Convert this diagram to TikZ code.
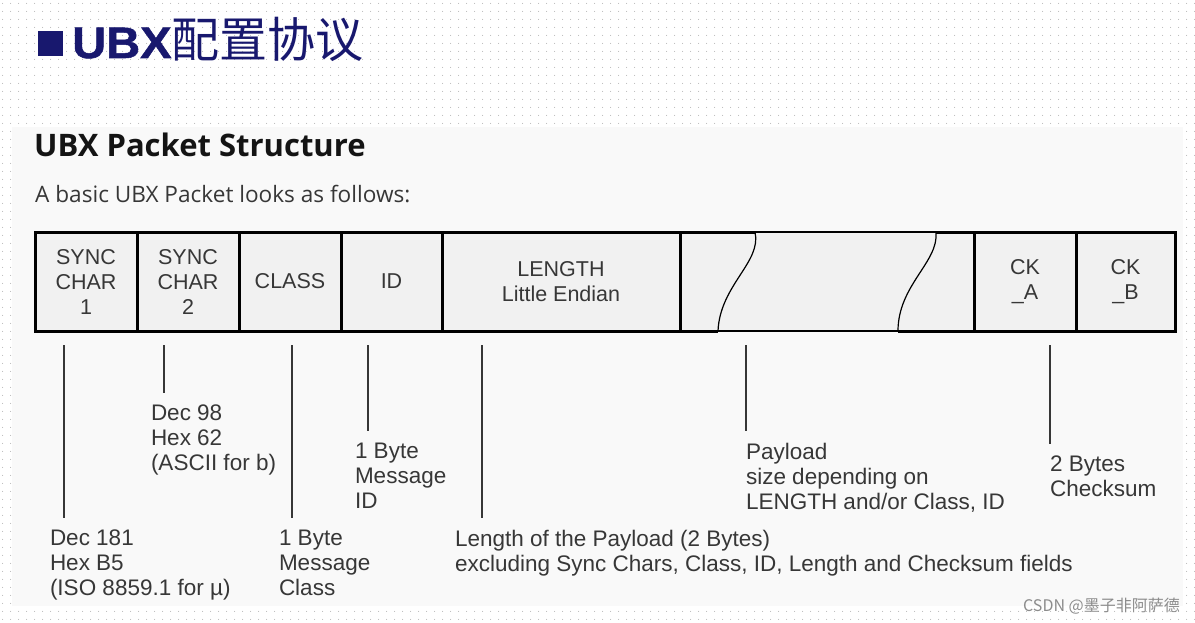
\documentclass[tikz,border=0pt]{standalone}
\usepackage{fontspec}
\setmainfont{Liberation Sans}
\newfontfamily\cjk{Noto Sans CJK SC}
\newfontfamily\headfont{Open Sans}
\newfontfamily\titlefont[FakeStretch=1.07,FakeBold=1.2]{Liberation Sans Bold}
\usepackage{tikz}
\usetikzlibrary{positioning,calc,patterns.meta}
\definecolor{ubxnavy}{RGB}{24,24,110}
\definecolor{txtgray}{RGB}{55,55,55}
\definecolor{boxgray}{RGB}{241,241,241}
\definecolor{panelgray}{RGB}{249,249,249}
\definecolor{dotgray}{RGB}{185,185,185}
\tikzdeclarepattern{name=bgdots,type=uncolored,
  bounding box={(0pt,0pt) and (8pt,8pt)},tile size={(8pt,8pt)},
  code={\fill (4pt,4pt) circle (0.6pt);}}

\begin{document}
\begin{tikzpicture}[x=1pt,y=-1pt,
  fld/.style={draw,line width=3pt,fill=boxgray,minimum height=99pt,inner sep=0pt,outer sep=0pt,
    align=center,text=txtgray,font=\fontsize{21.5}{25}\selectfont},
  lbl/.style={anchor=north west,align=left,inner sep=0pt,outer xsep=0pt,outer ysep=12pt,
    text=txtgray,font=\fontsize{22.5}{25}\selectfont},
  lead/.style={line width=1.8pt,draw=txtgray},
  brk/.style={line width=1.2pt}]
\useasboundingbox (0,0) rectangle (1195,623);
% background
\fill[pattern=bgdots,pattern color=dotgray] (0,0) rectangle (1195,623);
\fill[panelgray] (12,127) rectangle (1183,606);
% title
\node[fill=ubxnavy,minimum size=25pt,inner sep=0pt] (sq) at (50,44) {};
\node[anchor=base west,inner sep=0pt,text=ubxnavy] (title) at (72,58)
  {\titlefont\fontsize{44}{44}\selectfont UBX\cjk\fontsize{48}{48}\selectfont 配置协议};
\node[anchor=base west,inner sep=0pt,text=black!92,font=\headfont\fontsize{31}{31}\selectfont\bfseries] (head) at (34,157)
  {UBX Packet Structure};
\node[anchor=base west,inner sep=0pt,text=txtgray,font=\headfont\fontsize{22.6}{22.6}\selectfont] (sub) at (35,203)
  {A basic UBX Packet looks as follows:};
% fields
\node[fld,minimum width=102pt,anchor=north west] (sync1) at (35,232) {SYNC\\CHAR\\1};
\node[fld,minimum width=102pt,right=0pt of sync1] (sync2) {SYNC\\CHAR\\2};
\node[fld,minimum width=102pt,right=0pt of sync2] (cls) {CLASS};
\node[fld,minimum width=101pt,right=0pt of cls] (id) {ID};
\node[fld,minimum width=238pt,right=0pt of id] (len) {LENGTH\\Little Endian};
\node[fld,draw=none,minimum width=294pt,right=0pt of len] (pay) {};
\node[fld,minimum width=102pt,right=0pt of pay] (cka) {CK\\\_A};
\node[fld,minimum width=99pt,right=0pt of cka] (ckb) {CK\\\_B};
% payload with breaks
\draw[line width=3pt] ($(pay.north west)+(76,0)$) -- (pay.north west) -- (pay.south west) -- ($(pay.south west)+(38,0)$);
\draw[line width=3pt] ($(pay.north east)+(-38,0)$) -- (pay.north east);
\draw[line width=3pt] ($(pay.south east)+(-76,0)$) -- (pay.south east);
\draw[brk] ($(pay.north west)+(75,0)$) -- ($(pay.north east)+(-38,0)$);
\draw[brk] ($(pay.south west)+(38,0)$) -- ($(pay.south east)+(-76,0)$);
\draw[brk] ($(pay.north west)+(75,0)$) .. controls +(7,30) and +(2,-46) .. ($(pay.south west)+(38,0)$);
\draw[brk] ($(pay.north east)+(-38,0)$) .. controls +(3,30) and +(0,-46) .. ($(pay.south east)+(-76,0)$);
% leaders and labels
\coordinate (t1) at (64,345);
\coordinate (t2) at (164,345);
\coordinate (t3) at (292,345);
\coordinate (t4) at (368,345);
\coordinate (t5) at (482,345);
\coordinate (t6) at (746,345);
\coordinate (t7) at (1050,345);
\node[lbl] (l1) at (50,518) {Dec 181\\Hex B5\\(ISO 8859.1 for µ)};
\node[lbl] (l2) at (151,393) {Dec 98\\Hex 62\\(ASCII for b)};
\node[lbl] (l3) at (279,518) {1 Byte\\Message\\Class};
\node[lbl] (l4) at (355,431) {1 Byte\\Message\\ID};
\node[lbl] (l5) at (455,518) {Length of the Payload (2 Bytes)\\excluding Sync Chars, Class, ID, Length and Checksum fields};
\node[lbl] (l6) at (746,431) {Payload\\size depending on\\LENGTH and/or Class, ID};
\node[lbl] (l7) at (1050,444) {2 Bytes\\Checksum};
\foreach \i in {1,...,7}
  \draw[lead] (t\i) -- (t\i |- l\i.north);
% watermark
\node[anchor=base east,inner sep=0pt,text=black!45,font=\cjk\fontsize{16}{16}\selectfont] (mark) at (1180,611)
  {CSDN @墨子非阿萨德};
\end{tikzpicture}
\end{document}
